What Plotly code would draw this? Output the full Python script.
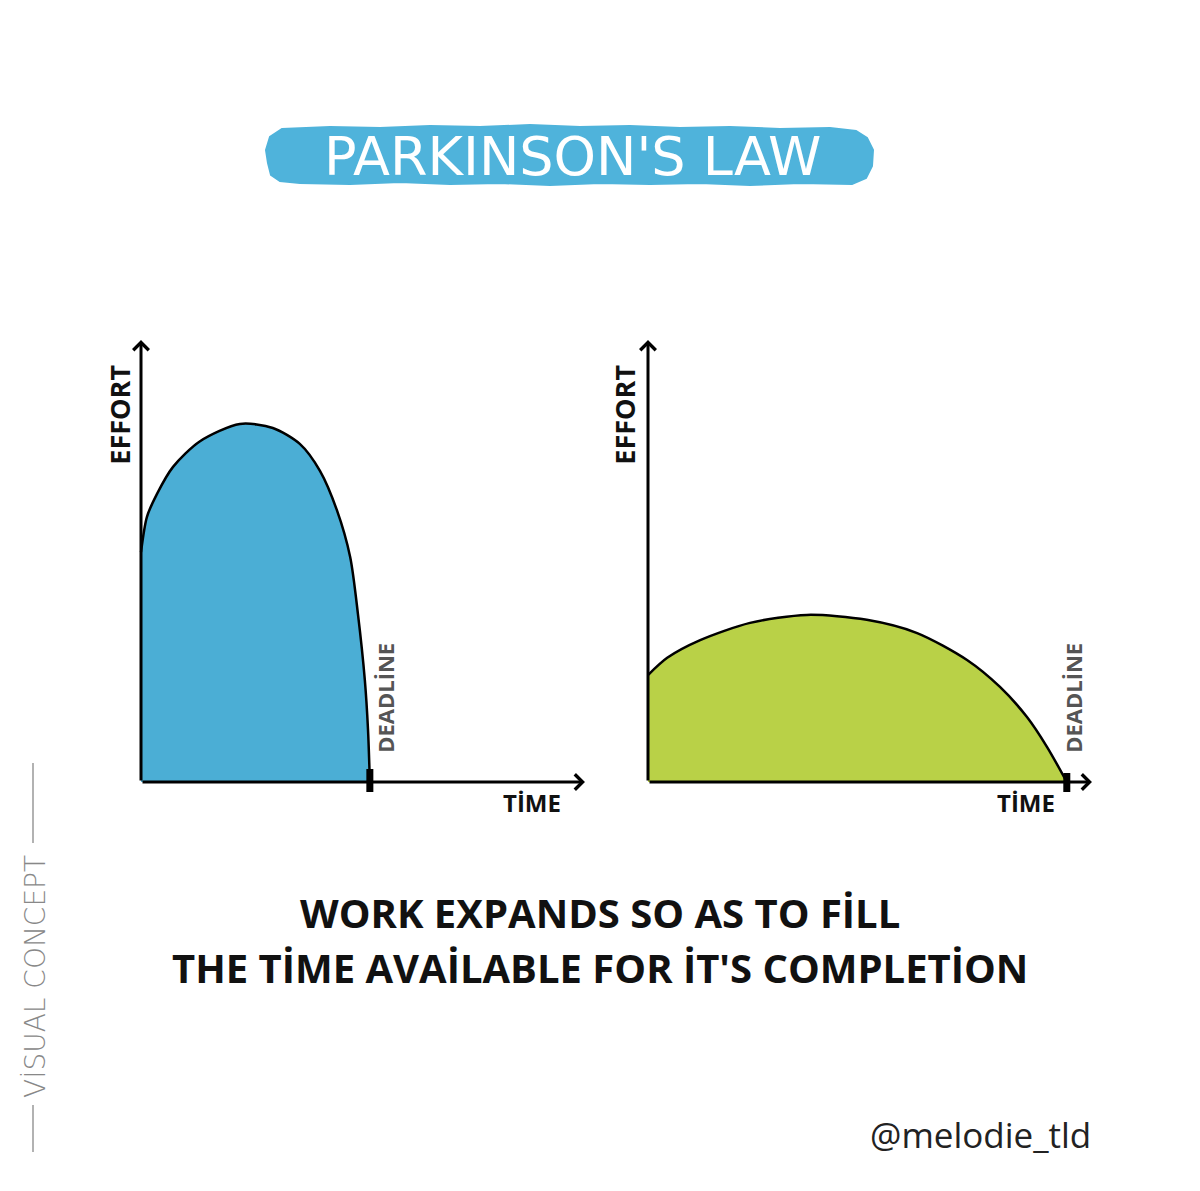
import plotly.graph_objects as go

W, H = 1200, 1191
OFF = 8  # page body margin that shifts the figure on screen

# values (time in arbitrary units, effort 0..10)
time_fast = [0, 0.13, 0.35, 0.70, 1.29, 2.16, 2.88, 3.47, 3.91, 4.28, 4.57, 4.74, 4.89, 4.96, 5.0]
effort_fast = [5.2, 6.0, 6.52, 7.13, 7.71, 8.1, 8.01, 7.65, 7.04, 6.15, 5.09, 3.8, 2.31, 1.18, 0]
time_slow = [0, 0.42, 1.14, 2.23, 3.47, 4.78, 5.88, 6.97, 7.69, 8.28, 8.72, 9.15]
effort_slow = [2.42, 2.81, 3.21, 3.6, 3.78, 3.67, 3.37, 2.76, 2.15, 1.47, 0.79, 0]
deadlines = [5.0, 9.15]
axis_end = [9.7, 10.0]  # arrow tips (time, effort)

title = "PARKINSON'S LAW"
caption = ["WORK EXPANDS SO AS TO FİLL", "THE TİME AVAİLABLE FOR İT'S COMPLETİON"]

BLUE = "#4BAED5"
GREEN = "#B9D147"
BANNER = "#4FB3DB"

# pixel scale of the axes
PXX, PXY = 45.77, 44.2
BASE_Y = 782


def px(x):
    return (x - OFF) / W


def py(y):
    return 1 - (y - OFF) / H


def xrange_for(origin_px, dom):
    lo, hi = dom[0] * W + OFF, dom[1] * W + OFF
    return [-(origin_px - lo) / PXX, (hi - origin_px) / PXX]


ydom = [0.25, 0.75]
y_bottom = (1 - ydom[0]) * H + OFF
y_top = (1 - ydom[1]) * H + OFF
yr = [-(y_bottom - BASE_Y) / PXY, (BASE_Y - y_top) / PXY]

fig = go.Figure()
fig.add_trace(go.Scatter(
    x=time_fast, y=effort_fast, mode="lines", fill="tozeroy",
    fillcolor=BLUE, line=dict(color="black", width=2.5, shape="spline", smoothing=0.8),
    xaxis="x", yaxis="y", hoverinfo="skip",
))
fig.add_trace(go.Scatter(
    x=time_slow, y=effort_slow, mode="lines", fill="tozeroy",
    fillcolor=GREEN, line=dict(color="black", width=2.5, shape="spline", smoothing=0.8),
    xaxis="x2", yaxis="y2", hoverinfo="skip",
))

ann = []
shapes = []
label_font = dict(family="Open Sans", size=27, color="#111", weight=700)
for i, (xr, yr_) in enumerate([("x", "y"), ("x2", "y2")]):
    # axes drawn as arrows
    ann.append(dict(x=axis_end[0], y=0, ax=0, ay=0, xref=xr, yref=yr_, axref=xr, ayref=yr_,
                    text="", showarrow=True, arrowhead=4, arrowsize=1, arrowwidth=3, arrowcolor="black"))
    ann.append(dict(x=0, y=axis_end[1], ax=0, ay=0, xref=xr, yref=yr_, axref=xr, ayref=yr_,
                    text="", showarrow=True, arrowhead=4, arrowsize=1, arrowwidth=3, arrowcolor="black"))
    ann.append(dict(x=0, y=8.3, xref=xr, yref=yr_, text="EFFORT", textangle=-90, showarrow=False,
                    xanchor="right", yanchor="middle", xshift=-1 if i == 0 else -3, font=label_font))
    ann.append(dict(x=axis_end[0] - (1.15 if i == 0 else 1.45), y=0, xref=xr, yref=yr_,
                    text="TİME", showarrow=False, xanchor="center", yanchor="top", yshift=-2,
                    font=dict(family="Open Sans", size=24, color="#111", weight=700)))
    ann.append(dict(x=deadlines[i], y=1.9, xref=xr, yref=yr_, text="DEADLİNE", textangle=-90,
                    showarrow=False, xanchor="left", yanchor="middle", xshift=-2 if i == 0 else -11,
                    font=dict(family="Open Sans", size=22, color="#555", weight=700)))
    shapes.append(dict(type="line", xref=xr, yref=yr_, x0=deadlines[i], x1=deadlines[i],
                       ysizemode="pixel", yanchor=0, y0=-10, y1=13 if i == 0 else 9,
                       line=dict(color="black", width=7)))

# title banner (rough brush stroke)
banner_pts = [(282, 129), (330, 127), (380, 128), (430, 126), (480, 127), (530, 125), (580, 127),
              (630, 126), (680, 128), (730, 127), (780, 129), (830, 128), (856, 131), (867, 138),
              (873, 150), (872, 166), (866, 178), (852, 184), (800, 183), (750, 185), (700, 183),
              (650, 184), (600, 183), (550, 185), (500, 183), (450, 184), (400, 182), (350, 184),
              (300, 183), (280, 181), (271, 175), (268, 163), (266, 150), (270, 137)]
path = "M " + " L ".join(f"{px(a):.5f},{py(b):.5f}" for a, b in banner_pts) + " Z"
shapes.append(dict(type="path", xref="paper", yref="paper", path=path,
                   fillcolor=BANNER, line=dict(color=BANNER, width=2), layer="below"))
ann.append(dict(x=px(572), y=py(156), xref="paper", yref="paper", text=title, showarrow=False,
                xanchor="center", yanchor="middle",
                font=dict(family="DejaVu Sans", size=54, color="white")))

# caption
for k, line in enumerate(caption):
    ann.append(dict(x=px(600), y=py(912 + 55 * k), xref="paper", yref="paper", text=line,
                    showarrow=False, xanchor="center", yanchor="middle",
                    font=dict(family="Open Sans", size=40, color="#111", weight=700)))

ann.append(dict(x=px(980), y=py(1134), xref="paper", yref="paper", text="@melodie_tld",
                showarrow=False, xanchor="center", yanchor="middle",
                font=dict(family="Open Sans", size=35, color="#222", weight=500)))

# side label
ann.append(dict(x=px(35), y=py(977), xref="paper", yref="paper", text="VİSUAL CONCEPT",
                textangle=-90, showarrow=False, xanchor="center", yanchor="middle",
                font=dict(family="DejaVu Sans", size=28, color="#888", weight=300)))
for y0, y1 in [(763, 843), (1105, 1152)]:
    shapes.append(dict(type="line", xref="paper", yref="paper", x0=px(33), x1=px(33),
                       y0=py(y0), y1=py(y1), line=dict(color="#999", width=1.5)))

hidden = dict(visible=False, showgrid=False, zeroline=False, fixedrange=True)
xdom1, xdom2 = [0.08, 0.5], [0.5, 0.95]
fig.update_layout(
    width=W, height=H, margin=dict(l=0, r=0, t=0, b=0),
    paper_bgcolor="white", plot_bgcolor="rgba(0,0,0,0)", showlegend=False,
    xaxis=dict(domain=xdom1, range=xrange_for(141, xdom1), anchor="y", **hidden),
    yaxis=dict(domain=ydom, range=yr, anchor="x", **hidden),
    xaxis2=dict(domain=xdom2, range=xrange_for(648, xdom2), anchor="y2", **hidden),
    yaxis2=dict(domain=ydom, range=yr, anchor="x2", **hidden),
    annotations=ann, shapes=shapes,
)

fig.write_html("out.html")
